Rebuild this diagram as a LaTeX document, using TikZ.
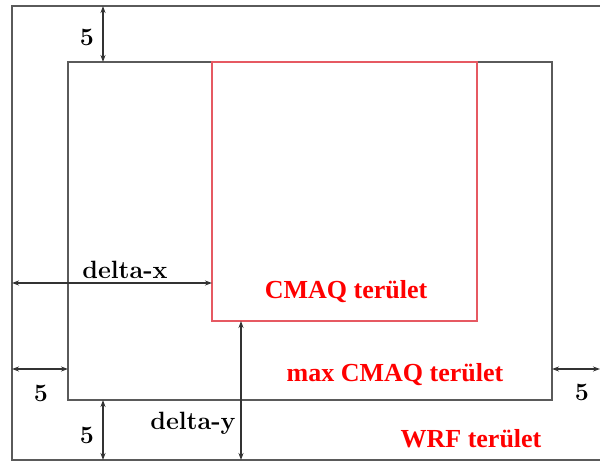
\documentclass[tikz,border=0pt]{standalone}
\usepackage{fontspec}
\newfontfamily\redfont{Liberation Serif}
\usetikzlibrary{arrows.meta,positioning}
\definecolor{boxgray}{RGB}{90,90,90}
\definecolor{cmaqred}{RGB}{225,60,70}
\tikzset{
  area/.style={draw=boxgray, line width=1.4pt},
  cmaqarea/.style={draw=cmaqred!85, line width=1.4pt},
  dim/.style={{Stealth[length=7pt,width=5pt]}-{Stealth[length=7pt,width=5pt]}, line width=1.2pt, draw=black!80},
  dimlabel/.style={font=\fontsize{25}{27}\selectfont\bfseries, inner sep=0pt},
  arealabel/.style={font=\redfont\fontsize{26}{28}\selectfont\bfseries, text=red, inner sep=0pt}
}
\begin{document}
\begin{tikzpicture}[x=1pt, y=-1pt]
  \useasboundingbox (0,0) rectangle (600,461);
  % corners
  \coordinate (wrf-nw) at (12,6);
  \coordinate (wrf-ne) at (600,6);
  \coordinate (wrf-se) at (600,460);
  \coordinate (max-nw) at (68,62);
  \coordinate (max-se) at (552,400);
  \coordinate (cmaq-nw) at (212,62);
  \coordinate (cmaq-se) at (477,321);
  % areas (WRF area runs past the right edge)
  \draw[area] (wrf-ne) -- (wrf-nw) |- (wrf-se);
  \draw[area] (max-nw) rectangle (max-se);
  \draw[cmaqarea] (cmaq-nw) rectangle (cmaq-se);
  % dimension end points
  \coordinate (top-a) at (103,6);
  \coordinate (top-b) at (103,62);
  \coordinate (dx-a) at (12,283);
  \coordinate (dx-b) at (212,283);
  \coordinate (left-a) at (12,369);
  \coordinate (left-b) at (68,369);
  \coordinate (right-a) at (552,369);
  \coordinate (right-b) at (600,369);
  \coordinate (bot-a) at (103,400);
  \coordinate (bot-b) at (103,460);
  \coordinate (dy-a) at (241,321);
  \coordinate (dy-b) at (241,460);
  \draw[dim] (top-a) -- (top-b);
  \draw[dim] (dx-a) -- (dx-b);
  \draw[dim] (left-a) -- (left-b);
  \draw[dim] (right-a) -- (right-b);
  \draw[dim] (bot-a) -- (bot-b);
  \draw[dim] (dy-a) -- (dy-b);
  % labels
  \node[dimlabel] (top5) at (87,37) {5};
  \node[dimlabel] (deltax) at (125,270) {delta-x};
  \node[dimlabel] (left5) at (41,393) {5};
  \node[dimlabel] (right5) at (582,392) {5};
  \node[dimlabel] (bot5) at (87,435) {5};
  \node[dimlabel] (deltay) at (193,423) {delta-y};
  \node[arealabel] (cmaq) at (346,292) {CMAQ terület};
  \node[arealabel] (maxcmaq) at (395,375) {max CMAQ terület};
  \node[arealabel] (wrf) at (471,439) {WRF terület};
\end{tikzpicture}
\end{document}
